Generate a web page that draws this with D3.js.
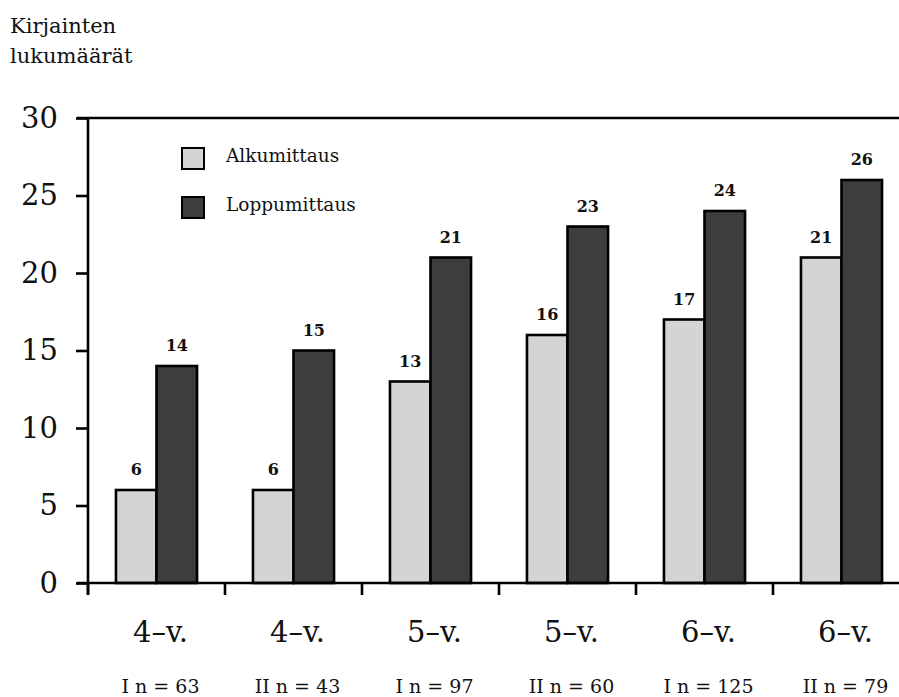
<!DOCTYPE html>
<html>
<head>
<meta charset="utf-8">
<script src="https://cdn.jsdelivr.net/npm/d3@7"></script>
<style>
  html, body { margin: 0; padding: 0; background: #fff; }
  svg { display: block; }
  text { font-family: "DejaVu Serif", "Liberation Serif", serif; fill: #111; }
</style>
</head>
<body>
<svg id="chart" width="899" height="697"></svg>
<script>
// Letter counts per group: start (Alkumittaus) vs end (Loppumittaus) measurement
const ageGroups = ["4–v.", "4–v.", "5–v.", "5–v.", "6–v.", "6–v."];
const sampleLabels = ["I n = 63", "II n = 43", "I n = 97", "II n = 60", "I n = 125", "II n = 79"];
const series = ["Alkumittaus", "Loppumittaus"];
const alkumittaus = [6, 6, 13, 16, 17, 21];
const loppumittaus = [14, 15, 21, 23, 24, 26];
const yTicks = [0, 5, 10, 15, 20, 25, 30];
const titleLines = ["Kirjainten", "lukumäärät"];

const colors = { Alkumittaus: "#d4d4d4", Loppumittaus: "#3d3d3d" };

const rows = ageGroups.map((g, i) => ({
  index: i,
  group: g,
  sample: sampleLabels[i],
  values: [
    { key: "Alkumittaus", value: alkumittaus[i] },
    { key: "Loppumittaus", value: loppumittaus[i] }
  ]
}));

const svg = d3.select("#chart");

const left = 88, step = 137;
const y = d3.scaleLinear().domain([0, 30]).range([583, 118]);
const x0 = d3.scaleBand().domain(d3.range(rows.length)).range([left, left + step * rows.length]).padding(0);
const x1 = d3.scaleBand().domain(series).range([0, x0.bandwidth()]).paddingInner(0).paddingOuter(0.69);

const stroke = 2.6;

// Title
svg.append("g").selectAll("text").data(titleLines).join("text")
  .attr("x", 10)
  .attr("y", (d, i) => 33 + i * 30)
  .style("font-size", "21px")
  .text(d => d);

// Top frame line
svg.append("line")
  .attr("x1", left - 11).attr("x2", x0.range()[1])
  .attr("y1", y(30)).attr("y2", y(30))
  .attr("stroke", "#000").attr("stroke-width", stroke);

// Bars
const groups = svg.append("g").selectAll("g").data(rows).join("g")
  .attr("transform", d => `translate(${x0(d.index)},0)`);

groups.selectAll("rect").data(d => d.values).join("rect")
  .attr("x", d => x1(d.key))
  .attr("width", x1.bandwidth())
  .attr("y", d => y(d.value))
  .attr("height", d => y(0) - y(d.value))
  .attr("fill", d => colors[d.key])
  .attr("stroke", "#000")
  .attr("stroke-width", stroke);

groups.selectAll("text.val").data(d => d.values).join("text")
  .attr("class", "val")
  .attr("x", d => x1(d.key) + x1.bandwidth() / 2)
  .attr("y", d => y(d.value) - 15)
  .attr("text-anchor", "middle")
  .style("font-size", "16px")
  .style("font-weight", "bold")
  .text(d => d.value);

// Y axis
const yAxis = svg.append("g")
  .attr("transform", `translate(${left},0)`)
  .call(d3.axisLeft(y).tickValues(yTicks).tickSize(12).tickSizeOuter(0).tickPadding(18));
yAxis.select(".domain").remove();
yAxis.selectAll(".tick line").attr("stroke", "#000").attr("stroke-width", stroke);
yAxis.selectAll(".tick text")
  .style("font-family", "'DejaVu Serif', serif")
  .style("font-size", "29px")
  .attr("fill", "#111");

svg.append("line")
  .attr("x1", left).attr("x2", left)
  .attr("y1", y(30) - 1).attr("y2", y(0) + 12)
  .attr("stroke", "#000").attr("stroke-width", stroke);

// X axis baseline and ticks at group boundaries
svg.append("line")
  .attr("x1", left - 11).attr("x2", x0.range()[1])
  .attr("y1", y(0)).attr("y2", y(0))
  .attr("stroke", "#000").attr("stroke-width", stroke);

svg.append("g").selectAll("line").data(rows).join("line")
  .attr("x1", d => x0(d.index)).attr("x2", d => x0(d.index))
  .attr("y1", y(0)).attr("y2", y(0) + 12)
  .attr("stroke", "#000").attr("stroke-width", stroke);

// Category labels
svg.append("g").selectAll("text").data(rows).join("text")
  .attr("x", d => x0(d.index) + x0.bandwidth() / 2 + 4)
  .attr("y", 642)
  .attr("text-anchor", "middle")
  .style("font-size", "29px")
  .text(d => d.group);

svg.append("g").selectAll("text").data(rows).join("text")
  .attr("x", d => x0(d.index) + x0.bandwidth() / 2 + 4)
  .attr("y", 693)
  .attr("text-anchor", "middle")
  .style("font-size", "19px")
  .text(d => d.sample);

// Legend
const legend = svg.append("g").selectAll("g").data(series).join("g")
  .attr("transform", (d, i) => `translate(182,${148 + i * 49})`);
legend.append("rect")
  .attr("width", 22).attr("height", 21)
  .attr("fill", d => colors[d])
  .attr("stroke", "#000").attr("stroke-width", 2);
legend.append("text")
  .attr("x", 44).attr("y", 14)
  .style("font-size", "18.5px")
  .text(d => d);
</script>
</body>
</html>
